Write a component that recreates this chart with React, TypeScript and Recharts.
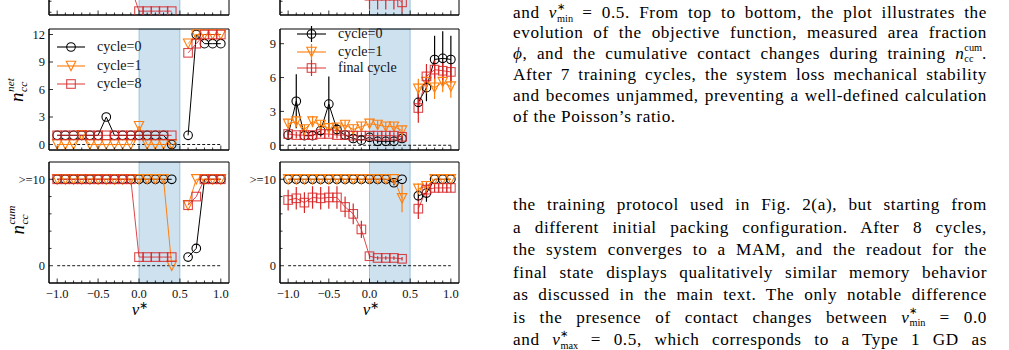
import React from 'react';
import {
  ComposedChart,
  Line,
  XAxis,
  YAxis,
  ReferenceArea,
  ReferenceLine,
  ErrorBar,
} from 'recharts';

// Target Poisson's ratio values (0.5 is left empty so the lines break there)
const nuTargets = [-1.0, -0.9, -0.8, -0.7, -0.6, -0.5, -0.4, -0.3, -0.2, -0.1, 0.0, 0.1, 0.2, 0.3, 0.4, 0.5, 0.6, 0.7, 0.8, 0.9, 1.0];
const nuTicks = [-1.0, -0.9, -0.8, -0.7, -0.6, -0.5, -0.4, -0.3, -0.2, -0.1, 0.0, 0.1, 0.2, 0.3, 0.4, 0.5, 0.6, 0.7, 0.8, 0.9, 1.0];
const nuTickLabels: Record<string, string> = { '-1': '−1.0', '-0.5': '−0.5', '0': '0.0', '0.5': '0.5', '1': '1.0' };

// Top row: measured Poisson's ratio (only the lowest part of these panels is on the page)
const measSingle8 = [null, null, null, null, null, null, null, null, null, -0.74, -1.18, -1.18, -1.18, -1.18, -1.18, null, null, null, null, null, null];
const measFinal = [null, null, null, null, null, null, null, null, null, null, -0.9, -0.9, -0.9, -0.9, -1.02, null, null, null, null, null, null];
const measFinalErr = [0, 0, 0, 0, 0, 0, 0, 0, 0, 0, 0.25, 0.25, 0.25, 0.25, 0.19, 0, 0, 0, 0, 0, 0];
const measTicks = [-1.2, -1.0, -0.8, -0.6, -0.4, -0.2, 0.0, 0.2, 0.4, 0.6, 0.8];

// Middle row, left: net contact changes for a single packing
const netCycle0 = [1, 1, 1, 1, 1, 1, 3, 1, 1, 1, 1, 1, 1, 1, 0, null, 1, 12, 11, 11, 11];
const netCycle1 = [0, 0, 0, 1, 0, 0, 0, 0, 0, 0, 2, 0, 0, 0, 0, null, 11, 12, 12, 12, 12];
const netCycle8 = [1, 1, 1, 1, 1, 1, 1, 1, 1, 1, 1, 1, 1, 1, 1, null, 10, 11, 12, 12, 12];
const netTicksLeft = [0, 3, 6, 9, 12];

// Middle row, right: ensemble averages with standard deviations
const avgNet0 = [0.9, 3.9, 0.85, 0.85, 1.3, 3.65, 1.4, 0.9, 0.6, 0.45, 0.7, 0.35, 0.35, 0.35, 0.6, null, 3.8, 5.1, 7.6, 7.7, 7.6];
const avgNet0Err = [0.3, 2.4, 0.3, 0.3, 0.5, 2.45, 0.5, 0.3, 0.3, 0.3, 0.3, 0.2, 0.2, 0.2, 0.3, 0, 1.0, 1.2, 2.1, 2.4, 2.1];
const avgNet1 = [1.9, 2.1, 1.4, 2.1, 1.8, 1.5, 1.55, 1.8, 1.4, 1.65, 1.9, 1.8, 1.65, 1.65, 1.3, null, 5.0, 5.6, 5.1, 5.6, 5.2];
const avgNet1Err = [0.4, 0.5, 0.4, 0.5, 0.4, 0.4, 0.4, 0.4, 0.4, 0.4, 0.4, 0.4, 0.4, 0.4, 0.4, 0, 0.9, 1.0, 1.0, 0.9, 1.0];
const avgNetF = [1.0, 0.9, 0.9, 0.9, 1.0, 1.0, 0.9, 0.9, 0.85, 0.85, 0.85, 0.85, 0.85, 0.85, 0.75, null, 3.3, 6.1, 6.7, 6.6, 6.5];
const avgNetFErr = [0.3, 0.3, 0.3, 0.3, 0.3, 0.3, 0.3, 0.3, 0.3, 0.3, 0.3, 0.3, 0.3, 0.3, 0.3, 0, 1.3, 1.1, 0.8, 0.8, 0.8];
const netTicksRight = [0, 3, 6, 9];

// Bottom row, left: cumulative contact changes for a single packing (capped at 10)
const cumCycle0 = [10, 10, 10, 10, 10, 10, 10, 10, 10, 10, 10, 10, 10, 10, 10, null, 1, 2, 10, 10, 10];
const cumCycle1 = [10, 10, 10, 10, 10, 10, 10, 10, 10, 10, 10, 10, 10, 10, 0, null, 7, 10, 10, 10, 10];
const cumCycle8 = [10, 10, 10, 10, 10, 10, 10, 10, 10, 10, 1, 1, 1, 1, 1, null, 7, 8, 10, 10, 10];

// Bottom row, right: ensemble averages of the cumulative count
const avgCum0 = [10, 10, 10, 10, 10, 10, 10, 10, 10, 10, 10, 10, 10, 9.6, 10, null, 8.1, 8.4, 10, 10, 10];
const avgCum0Err = [0, 0, 0, 0, 0, 0, 0, 0, 0, 0, 0, 0, 0, 0.3, 0, 0, 0.6, 1.0, 0, 0, 0];
const avgCum1 = [10, 10, 10, 10, 10, 10, 10, 10, 10, 10, 10, 10, 10, 10, 7.8, null, 8.9, 9.2, 10, 10, 10];
const avgCum1Err = [0, 0, 0, 0, 0, 0, 0, 0, 0, 0, 0, 0, 0, 0, 1.6, 0, 0.6, 0.5, 0, 0, 0];
const avgCumF = [7.6, 7.8, 7.3, 7.9, 7.8, 7.9, 7.9, 6.8, 6.0, 4.2, 1.1, 0.9, 0.9, 0.9, 0.8, null, 6.6, 8.8, 9.0, 9.0, 9.0];
const avgCumFErr = [1.2, 1.3, 1.2, 1.3, 1.3, 1.3, 1.3, 1.2, 1.2, 1.0, 0.3, 0.2, 0.2, 0.2, 0.2, 0, 1.2, 0.8, 0.5, 0.5, 0.5];
const cumTicks = [0, 2, 4, 6, 8, 10];

const legendSingle = ['cycle=0', 'cycle=1', 'cycle=8'];
const legendEnsemble = ['cycle=0', 'cycle=1', 'final cycle'];

const FONT = '"Liberation Serif", "Times New Roman", serif';
const BLACK = '#000000';
const ORANGE = '#ff7f0e';
const RED = '#d62728';
const SPAN = '#1f77b4';

type Shape = 'circle' | 'tri' | 'square';
type SeriesDef = { key: string; errKey?: string; color: string; shape: Shape; opacity?: number };

const buildRows = (cols: Record<string, (number | null)[]>) =>
  nuTargets.map((nu, i) => {
    const row: Record<string, number | null> = { nu };
    Object.keys(cols).forEach((k) => {
      row[k] = cols[k][i];
    });
    return row;
  });

function MarkerGlyph({ shape, cx, cy, color, opacity = 1 }: { shape: Shape; cx: number; cy: number; color: string; opacity?: number }) {
  const common = { fill: 'none', stroke: color, strokeWidth: 1.1, strokeOpacity: opacity };
  if (shape === 'circle') return <circle cx={cx} cy={cy} r={4.3} {...common} />;
  if (shape === 'square') return <rect x={cx - 4.3} y={cy - 4.3} width={8.6} height={8.6} {...common} />;
  const r = 4.7;
  return <polygon points={`${cx},${cy + r} ${cx - r},${cy - r} ${cx + r},${cy - r}`} {...common} />;
}

const markerRenderer = (shape: Shape, color: string, opacity: number) => (p: any) => {
  const { cx, cy, index } = p;
  const k = `${shape}-${index}`;
  if (cx == null || cy == null || !Number.isFinite(cx) || !Number.isFinite(cy) || p.value == null) return <g key={k} />;
  return (
    <g key={k}>
      <MarkerGlyph shape={shape} cx={cx} cy={cy} color={color} opacity={opacity} />
    </g>
  );
};

const XTick = (p: any) => {
  const { x, y, payload, showLabel } = p;
  const key = String(Math.round(payload.value * 10) / 10);
  const label = nuTickLabels[key];
  const major = label !== undefined;
  return (
    <g>
      <line x1={x} x2={x} y1={y} y2={y - (major ? 4.5 : 2.5)} stroke="#000" strokeWidth={0.8} />
      {showLabel && major && (
        <text x={x} y={y + 14.5} textAnchor="middle" fontFamily={FONT} fontSize={12.5} fill="#111">
          {label}
        </text>
      )}
    </g>
  );
};

const YTick = (p: any) => {
  const { x, y, payload, labels } = p;
  const lab = labels ? labels[String(payload.value)] : undefined;
  return (
    <g>
      <line x1={x} x2={x + (lab ? 4 : 2.5)} y1={y} y2={y} stroke="#000" strokeWidth={0.8} />
      {lab && (
        <text x={x - 4} y={y} dy="0.34em" textAnchor="end" fontFamily={FONT} fontSize={12.5} fill="#111">
          {lab}
        </text>
      )}
    </g>
  );
};

type PanelProps = {
  left: number;
  top: number;
  width: number;
  height: number;
  yDomain: [number, number];
  yTicks: number[];
  yLabels?: Record<string, string>;
  showX: boolean;
  rows: Record<string, number | null>[];
  series: SeriesDef[];
  zeroLine?: boolean;
};

function Panel({ left, top, width, height, yDomain, yTicks, yLabels, showX, rows, series, zeroLine }: PanelProps) {
  const ML = 40;
  const MT = 5;
  const MR = 5;
  const XH = 30;
  return (
    <div style={{ position: 'absolute', left: left - ML, top: top - MT }}>
      <ComposedChart width={ML + width + MR} height={MT + height + XH} data={rows} margin={{ top: MT, right: MR, bottom: 0, left: 0 }}>
        <XAxis
          dataKey="nu"
          type="number"
          domain={[-1.1, 1.1]}
          allowDataOverflow
          ticks={nuTicks}
          interval={0}
          tickSize={0}
          tickMargin={0}
          height={XH}
          axisLine={{ stroke: '#000' }}
          tickLine={false}
          tick={(p: any) => <XTick {...p} showLabel={showX} />}
        />
        <YAxis
          type="number"
          domain={yDomain}
          allowDataOverflow
          ticks={yTicks}
          interval={0}
          width={ML}
          tickSize={0}
          tickMargin={0}
          axisLine={{ stroke: '#000' }}
          tickLine={false}
          tick={(p: any) => <YTick {...p} labels={yLabels} />}
        />
        <ReferenceArea x1={0} x2={0.5} fill={SPAN} fillOpacity={0.22} stroke={SPAN} strokeOpacity={0.35} strokeWidth={1} />
        {zeroLine && (
          <ReferenceLine
            segment={[{ x: -1, y: 0 }, { x: 1, y: 0 }]}
            stroke="#000"
            strokeDasharray="3 2"
            strokeWidth={0.9}
          />
        )}
        {series.map((s) => (
          <Line
            key={s.key}
            dataKey={s.key}
            stroke={s.color}
            strokeOpacity={s.opacity ?? 1}
            strokeWidth={1}
            dot={markerRenderer(s.shape, s.color, s.opacity ?? 1)}
            activeDot={false}
            isAnimationActive={false}
          >
            {s.errKey && <ErrorBar dataKey={s.errKey} width={0} stroke={s.color} strokeWidth={1.2} direction="y" />}
          </Line>
        ))}
        <ReferenceArea x1={-1.1} x2={1.1} y1={yDomain[0]} y2={yDomain[1]} fill="none" stroke="#000" strokeWidth={1} />
      </ComposedChart>
    </div>
  );
}

// Italic symbol carrying a superscript / subscript pair stacked on top of each other.
// The longer script sits in the text flow; the shorter one is placed above or below it.
function Stack({ base, sup, sub, size }: { base: string; sup: string; sub: string; size?: number }) {
  const supLonger = sup.length > sub.length;
  const flowText = supLonger ? sup : sub;
  const otherText = supLonger ? sub : sup;
  return (
    <span style={{ whiteSpace: 'nowrap', fontSize: size, letterSpacing: 0 }}>
      <i>{base}</i>
      <span
        style={{
          position: 'relative',
          fontSize: '0.6em',
          lineHeight: 0,
          verticalAlign: supLonger ? '0.75em' : '-0.37em',
          marginLeft: '0.05em',
        }}
      >
        {flowText}
        <span
          style={{
            position: 'absolute',
            left: 0,
            top: supLonger ? '1.17em' : '-1.07em',
            lineHeight: 1,
            whiteSpace: 'nowrap',
          }}
        >
          {otherText}
        </span>
      </span>
    </span>
  );
}

function YLabel({ cx, cy, sup }: { cx: number; cy: number; sup: string }) {
  return (
    <div
      style={{
        position: 'absolute',
        left: cx,
        top: cy,
        transform: 'translate(-50%, -50%) rotate(-90deg)',
        fontFamily: FONT,
        fontStyle: 'italic',
        fontSize: 19,
        whiteSpace: 'nowrap',
        lineHeight: 1,
      }}
    >
      <Stack base="n" sup={sup} sub="cc" />
    </div>
  );
}

function XLabel({ cx, cy }: { cx: number; cy: number }) {
  return (
    <div
      style={{
        position: 'absolute',
        left: cx,
        top: cy,
        transform: 'translate(-50%, -50%)',
        fontFamily: FONT,
        fontSize: 17,
        whiteSpace: 'nowrap',
        lineHeight: 1,
      }}
    >
      <i>ν</i>
      <sup style={{ fontSize: 11 }}>∗</sup>
    </div>
  );
}

type LegendProps = {
  x0: number;
  x1: number;
  textX: number;
  rowsY: number[];
  labels: string[];
  withBars: boolean;
};

const legendStyles: { color: string; shape: Shape; opacity: number }[] = [
  { color: BLACK, shape: 'circle', opacity: 1 },
  { color: ORANGE, shape: 'tri', opacity: 1 },
  { color: RED, shape: 'square', opacity: 0.85 },
];

function PanelLegend({ x0, x1, textX, rowsY, labels, withBars }: LegendProps) {
  const mid = (x0 + x1) / 2;
  return (
    <>
      {labels.map((lab, i) => {
        const st = legendStyles[i];
        const y = rowsY[i];
        return (
          <React.Fragment key={lab}>
            <svg style={{ position: 'absolute', left: x0, top: y - 9 }} width={x1 - x0} height={18}>
              <line x1={0} x2={x1 - x0} y1={9} y2={9} stroke={st.color} strokeOpacity={st.opacity} strokeWidth={1.1} />
              {withBars && <line x1={mid - x0} x2={mid - x0} y1={1} y2={17} stroke={st.color} strokeWidth={1.2} />}
              <MarkerGlyph shape={st.shape} cx={mid - x0} cy={9} color={st.color} opacity={st.opacity} />
            </svg>
            <div
              style={{
                position: 'absolute',
                left: textX,
                top: y - 8,
                height: 16,
                lineHeight: '16px',
                fontFamily: FONT,
                fontSize: 14,
                whiteSpace: 'nowrap',
                color: '#111',
              }}
            >
              {lab}
            </div>
          </React.Fragment>
        );
      })}
    </>
  );
}

// Body text lines of the page column
const paraOne: React.ReactNode[] = [
  <>and <Stack base="ν" sup="∗" sub="min" /> = 0.5. From top to bottom, the plot illustrates the</>,
  <>evolution of the objective function, measured area fraction</>,
  <><i>ϕ</i>, and the cumulative contact changes during training <Stack base="n" sup="cum" sub="cc" />.</>,
  <>After 7 training cycles, the system loss mechanical stability</>,
  <>and becomes unjammed, preventing a well-defined calculation</>,
  <>of the Poisson’s ratio.</>,
];
const paraOneY = [13, 33, 54, 75, 96, 117];

const paraTwo: React.ReactNode[] = [
  <>the training protocol used in Fig. 2(a), but starting from</>,
  <>a different initial packing configuration. After 8 cycles,</>,
  <>the system converges to a MAM, and the readout for the</>,
  <>final state displays qualitatively similar memory behavior</>,
  <>as discussed in the main text. The only notable difference</>,
  <>is the presence of contact changes between <Stack base="ν" sup="∗" sub="min" /> = 0.0</>,
  <>and <Stack base="ν" sup="∗" sub="max" /> = 0.5, which corresponds to a Type 1 GD as</>,
];
const paraTwoY = [205, 227.5, 250, 272.5, 295, 317.5, 340];

function TextLines({ lines, ys, lastJustified }: { lines: React.ReactNode[]; ys: number[]; lastJustified: boolean }) {
  return (
    <>
      {lines.map((ln, i) => {
        const justify = i < lines.length - 1 || lastJustified;
        return (
          <div
            key={i}
            style={{
              position: 'absolute',
              left: 513,
              top: ys[i] - 10,
              width: 474,
              height: 19,
              lineHeight: '19px',
              fontFamily: FONT,
              fontSize: 17.2,
              letterSpacing: 0.6,
              color: '#000',
              whiteSpace: 'nowrap',
              textAlign: justify ? 'justify' : 'left',
              textAlignLast: justify ? 'justify' : 'left',
            }}
          >
            {ln}
          </div>
        );
      })}
    </>
  );
}

export default function App() {
  const topLeftRows = buildRows({ s8: measSingle8 });
  const topRightRows = buildRows({ f: measFinal, fe: measFinalErr });
  const midLeftRows = buildRows({ c0: netCycle0, c1: netCycle1, c8: netCycle8 });
  const midRightRows = buildRows({ c0: avgNet0, c0e: avgNet0Err, c1: avgNet1, c1e: avgNet1Err, f: avgNetF, fe: avgNetFErr });
  const botLeftRows = buildRows({ c0: cumCycle0, c1: cumCycle1, c8: cumCycle8 });
  const botRightRows = buildRows({ c0: avgCum0, c0e: avgCum0Err, c1: avgCum1, c1e: avgCum1Err, f: avgCumF, fe: avgCumFErr });

  const singleSeries: SeriesDef[] = [
    { key: 'c0', color: BLACK, shape: 'circle' },
    { key: 'c1', color: ORANGE, shape: 'tri' },
    { key: 'c8', color: RED, shape: 'square', opacity: 0.85 },
  ];
  const ensembleSeries: SeriesDef[] = [
    { key: 'c0', errKey: 'c0e', color: BLACK, shape: 'circle' },
    { key: 'c1', errKey: 'c1e', color: ORANGE, shape: 'tri' },
    { key: 'f', errKey: 'fe', color: RED, shape: 'square', opacity: 0.85 },
  ];

  const LX = 49;
  const RX = 280;
  const W = 180;
  const H = 121;

  return (
    <div style={{ position: 'absolute', left: 0, top: 0, width: 1009, height: 350, overflow: 'hidden', background: '#fff' }}>
      <Panel left={LX} top={-106} width={W} height={H} yDomain={[-1.25, 0.95]} yTicks={measTicks} showX={false} rows={topLeftRows} series={[{ key: 's8', color: RED, shape: 'square', opacity: 0.85 }]} />
      <Panel left={RX} top={-106} width={W - 1} height={H} yDomain={[-1.25, 0.95]} yTicks={measTicks} showX={false} rows={topRightRows} series={[{ key: 'f', errKey: 'fe', color: RED, shape: 'square', opacity: 0.85 }]} />

      <Panel left={LX} top={29} width={W} height={H} yDomain={[-0.6, 12.6]} yTicks={netTicksLeft} yLabels={{ '0': '0', '3': '3', '6': '6', '9': '9', '12': '12' }} showX={false} rows={midLeftRows} series={singleSeries} zeroLine />
      <Panel left={RX} top={29} width={W - 1} height={H} yDomain={[-0.42, 10.3]} yTicks={netTicksRight} yLabels={{ '0': '0', '3': '3', '6': '6', '9': '9' }} showX={false} rows={midRightRows} series={ensembleSeries} zeroLine />

      <Panel left={LX} top={162} width={W} height={H} yDomain={[-2, 12]} yTicks={cumTicks} yLabels={{ '0': '0', '10': '>=10' }} showX rows={botLeftRows} series={singleSeries} zeroLine />
      <Panel left={RX} top={162} width={W - 1} height={H} yDomain={[-2, 12]} yTicks={cumTicks} yLabels={{ '0': '0', '10': '>=10' }} showX rows={botRightRows} series={ensembleSeries} zeroLine />

      <PanelLegend x0={57} x1={85} textX={97} rowsY={[46.7, 65.7, 84.3]} labels={legendSingle} withBars={false} />
      <PanelLegend x0={297} x1={326} textX={338} rowsY={[34.3, 51.7, 67.7]} labels={legendEnsemble} withBars />

      <YLabel cx={16} cy={90} sup="net" />
      <YLabel cx={17} cy={220} sup="cum" />
      <XLabel cx={140} cy={309} />
      <XLabel cx={371} cy={309} />

      <TextLines lines={paraOne} ys={paraOneY} lastJustified={false} />
      <TextLines lines={paraTwo} ys={paraTwoY} lastJustified />
    </div>
  );
}
